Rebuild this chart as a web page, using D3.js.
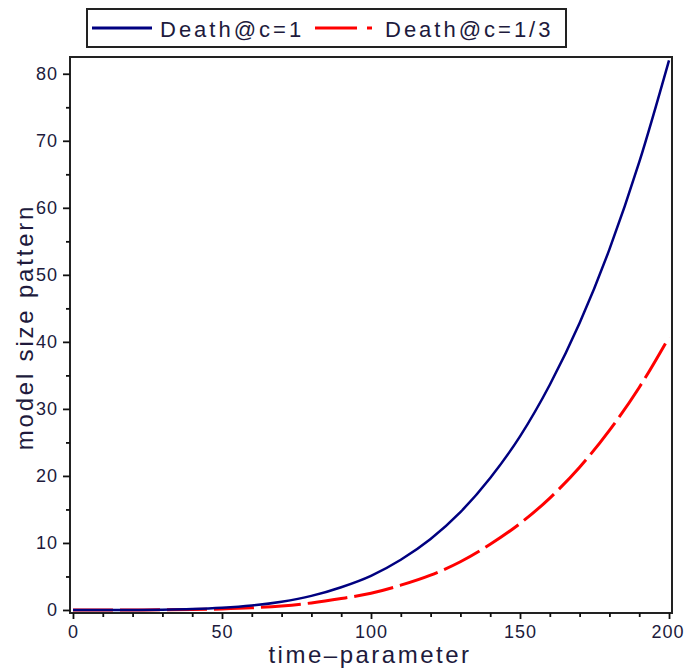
<!DOCTYPE html>
<html>
<head>
<meta charset="utf-8">
<script src="https://d3js.org/d3.v7.min.js"></script>
<style>
  body { margin: 0; background: #fff; }
  text { font-family: "Liberation Sans", Arial, sans-serif; fill: #201a3c; }
</style>
</head>
<body>
<div id="chart"></div>
<script>
// chart data
var timeValues = [0, 10, 20, 30, 40, 50, 60, 70, 80, 90, 100, 110, 120, 130, 140, 150, 160, 170, 180, 190, 200];
var deathC1 = [0, 0.0, 0.01, 0.04, 0.13, 0.32, 0.66, 1.23, 2.1, 3.4, 5.1, 7.5, 10.6, 14.6, 19.7, 25.9, 33.6, 42.8, 53.8, 66.8, 82.0];
var deathC13 = [0, 0.0, 0.01, 0.02, 0.06, 0.16, 0.33, 0.61, 1.05, 1.7, 2.5, 3.7, 5.2, 7.2, 9.8, 12.9, 16.7, 21.3, 26.8, 33.2, 40.7];
var xTicks = [0, 50, 100, 150, 200];
var yTicks = [0, 10, 20, 30, 40, 50, 60, 70, 80];
var legendLabels = ["Death@c=1", "Death@c=1/3"];

// define screen width & height
var svgWidth = 685;
var svgHeight = 671;

// plot box
var box = { left: 70, right: 672, top: 57, bottom: 613 };

var svg = d3.select("#chart")
  .append("svg")
  .attr("width", svgWidth)
  .attr("height", svgHeight);

// scales
var xScale = d3.scaleLinear()
  .domain([-1, 201])
  .range([box.left, box.right]);

var yScale = d3.scaleLinear()
  .domain([-0.45, 82.5])
  .range([box.bottom, box.top]);

// minor ticks
var xMinor = d3.range(0, 201, 10).filter(d => d % 50 !== 0);
var yMinor = d3.range(5, 81, 10);

// frame
svg.append("rect")
  .attr("x", box.left)
  .attr("y", box.top)
  .attr("width", box.right - box.left)
  .attr("height", box.bottom - box.top)
  .attr("fill", "none")
  .attr("stroke", "#222")
  .attr("stroke-width", 2);

// x axis
var bottomAxis = d3.axisBottom(xScale)
  .tickValues(xTicks)
  .tickSize(6)
  .tickPadding(6)
  .tickFormat(d3.format("d"));

var xAxis = svg.append("g")
  .attr("transform", `translate(0, ${box.bottom})`)
  .call(bottomAxis);

svg.append("g")
  .attr("transform", `translate(0, ${box.bottom})`)
  .call(d3.axisBottom(xScale).tickValues(xMinor).tickSize(4).tickFormat(""));

// y axis
var leftAxis = d3.axisLeft(yScale)
  .tickValues(yTicks)
  .tickSize(7)
  .tickPadding(5)
  .tickFormat(d3.format("d"));

svg.append("g")
  .attr("transform", `translate(${box.left}, 0)`)
  .call(leftAxis);

svg.append("g")
  .attr("transform", `translate(${box.left}, 0)`)
  .call(d3.axisLeft(yScale).tickValues(yMinor).tickSize(4).tickFormat(""));

svg.selectAll(".domain").remove();
svg.selectAll(".tick line")
  .attr("stroke", "#111")
  .attr("stroke-width", 1.8);
svg.selectAll(".tick text")
  .attr("font-size", "18px")
  .attr("letter-spacing", "1px")
  .attr("fill", "#201a3c");

// keep the last x label inside the window
xAxis.selectAll(".tick text")
  .filter(d => d === 200)
  .attr("text-anchor", "end")
  .attr("dx", "15px");

// lines
var curveLine = d3.line()
  .x((d, i) => xScale(timeValues[i]))
  .y(d => yScale(d))
  .curve(d3.curveMonotoneX);

svg.append("path")
  .datum(deathC13)
  .attr("d", curveLine)
  .attr("fill", "none")
  .attr("stroke", "#ff0000")
  .attr("stroke-width", 3)
  .attr("stroke-dasharray", "40,7");

svg.append("path")
  .datum(deathC1)
  .attr("d", curveLine)
  .attr("fill", "none")
  .attr("stroke", "#000080")
  .attr("stroke-width", 2.5);

// axis titles
svg.append("text")
  .attr("x", 370)
  .attr("y", 663)
  .attr("text-anchor", "middle")
  .attr("font-size", "24px")
  .attr("letter-spacing", "2.5px")
  .text("time–parameter");

svg.append("text")
  .attr("transform", "translate(33, 327) rotate(-90)")
  .attr("text-anchor", "middle")
  .attr("font-size", "24px")
  .attr("letter-spacing", "2.8px")
  .text("model size pattern");

// legend
var legend = svg.append("g");

legend.append("rect")
  .attr("x", 87)
  .attr("y", 9)
  .attr("width", 479)
  .attr("height", 38)
  .attr("fill", "#fff")
  .attr("stroke", "#222")
  .attr("stroke-width", 2);

legend.append("line")
  .attr("x1", 92).attr("x2", 152)
  .attr("y1", 28).attr("y2", 28)
  .attr("stroke", "#000080")
  .attr("stroke-width", 3);

legend.append("text")
  .attr("x", 160)
  .attr("y", 37)
  .attr("font-size", "22px")
  .attr("letter-spacing", "3px")
  .text(legendLabels[0]);

legend.append("line")
  .attr("x1", 315).attr("x2", 372)
  .attr("y1", 28).attr("y2", 28)
  .attr("stroke", "#ff0000")
  .attr("stroke-width", 3)
  .attr("stroke-dasharray", "42,10,5,10");

legend.append("text")
  .attr("x", 385)
  .attr("y", 37)
  .attr("font-size", "22px")
  .attr("letter-spacing", "3px")
  .text(legendLabels[1]);
</script>
</body>
</html>
